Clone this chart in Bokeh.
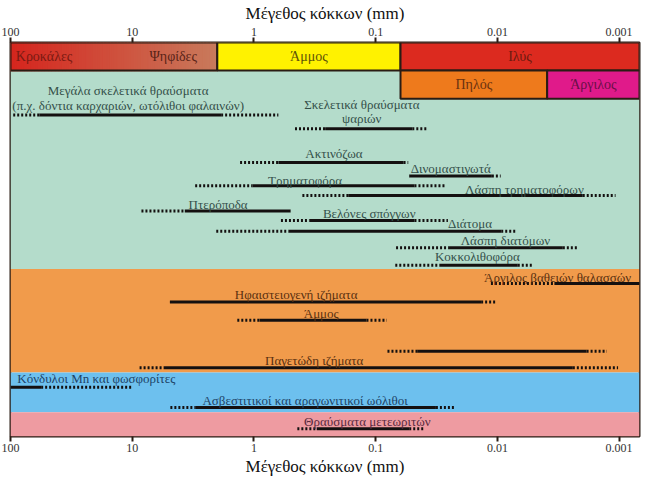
import numpy as np
from bokeh.plotting import figure
from bokeh.models import Range1d, LogAxis, FixedTicker, ColumnDataSource
from bokeh.core.properties import value
from bokeh.embed import file_html
from bokeh.resources import INLINE

# ---------------- data ----------------
X_MAX, X_MIN = 100.0, 0.00068          # grain size range (mm)
tick_values = [100, 10, 1, 0.1, 0.01, 0.001]
tick_labels = ["100", "10", "1", "0.1", "0.01", "0.001"]

# grain-size classes (top bands)
gravel_bounds = [100.0, 2.0]
gravel_labels = ["Κροκάλες", "Ψηφίδες"]
gravel_label_x = [53.0, 4.6]
class_names = ["Άμμος", "Ιλύς", "Πηλός", "Άργιλος"]
class_left = [2.0, 0.0625, 0.0625, 0.0039]
class_right = [0.0625, X_MIN, 0.0039, X_MIN]
class_row = [0, 0, 1, 1]
class_colors = ["#fff200", "#dc2a1f", "#ee7a1c", "#e01a8a"]
class_text_colors = ["#5e5208", "#6b1a10", "#6a3210", "#6a1048"]

# sediment groups (background regions)
region_names = ["biogenic", "terrigenous", "authigenic", "cosmogenic"]
region_colors = ["#b4dccb", "#f19b4b", "#6dc0ee", "#ee9ba1"]
region_text_colors = ["#34504a", "#5a3010", "#1e4468", "#5a2a40"]

# sediment types: size ranges in mm (dotted start, solid start, solid end, dotted end)
sed_names = ["Μεγάλα σκελετικά θραύσματα", "Σκελετικά θραύσματα", "Ακτινόζωα", "Δινομαστιγωτά",
             "Τρηματοφόρα", "Λάσπη τρηματοφόρων", "Πτερόποδα", "Βελόνες σπόγγων", "Διάτομα",
             "Λάσπη διατόμων", "Κοκκολιθοφόρα", "Άργιλος βαθειών θαλασσών",
             "Ηφαιστειογενή ιζήματα", "Άμμος", "", "Παγετώδη ιζήματα",
             "Κόνδυλοι Mn και φωσφορίτες", "Ασβεστιτικοί και αραγωνιτικοί ωόλιθοι",
             "Θραύσματα μετεωριτών"]
sed_region = [0, 0, 0, 0, 0, 0, 0, 0, 0, 0, 0, 1, 1, 1, 1, 1, 2, 2, 3]
dot_start = [95.0, 0.46, 1.3, 0.053, 3.04, 0.40, 8.4, 0.60, 2.04, 0.068, 0.069, 0.0113,
             4.9, 1.37, 0.080, 8.7, 100.0, 4.86, 0.44]
solid_start = [58.0, 0.26, 0.63, 0.053, 1.03, 0.168, 3.7, 0.35, 0.52, 0.025, 0.030, 0.0034,
               4.9, 0.90, 0.0456, 5.5, 100.0, 3.04, 0.305]
solid_end = [1.86, 0.050, 0.059, 0.0111, 0.048, 0.00199, 0.50, 0.048, 0.0093, 0.0029, 0.0068,
             X_MIN, 0.0136, 0.119, 0.00185, 0.0024, 56.0, 0.032, 0.053]
dot_end = [0.63, 0.038, 0.054, 0.0094, 0.027, 0.00107, 0.50, 0.0255, 0.0069, 0.0022, 0.0052,
           X_MIN, 0.0101, 0.081, 0.00126, 0.00102, 10.0, 0.022, 0.040]
# label anchor (size in mm) of each sediment type
label_x = [10.8, 0.13, 0.22, 0.0242, 0.38, 0.0060, 1.97, 0.113, 0.0168, 0.0086, 0.0146,
           0.0032, 0.45, 0.28, 0.28, 0.32, 88.0, 0.38, 0.117]
extra_label = ["(π.χ. δόντια καρχαριών, ωτόλιθοι φαλαινών)", "ψαριών"]
extra_label_x = [10.8, 0.13]

# ---------------- layout (vertical positions, frame units from top) ----------------
Y_TOP, Y_BOT = 0, 407
row_edges = [0, 29, 58]
region_edges = [0, 234, 341, 382, 407]
line_y = [75, 89, 124, 138, 148, 158, 174, 184, 195, 212, 230, 249, 268, 287, 319, 336, 356, 377, 399]
label_y = [50, 64, 115, 130, 143, 152, 167, 177, 187, 205, 221, 243, 260, 280, 280, 328, 347, 370, 391]
extra_label_y = [65, 79]

FONT = "'Liberation Serif', 'Times New Roman', serif"
DARK = "#2a1c14"

p = figure(width=649, height=478, x_axis_type="log",
           x_range=Range1d(X_MAX, X_MIN), y_range=Range1d(Y_BOT, Y_TOP),
           output_backend="svg", toolbar_location=None, y_axis_location=None,
           min_border_left=10, min_border_right=10, min_border_top=0, min_border_bottom=0)
p.grid.visible = False
p.outline_line_color = DARK
p.outline_line_width = 2
p.background_fill_color = "white"

# background regions
p.quad(left=[X_MAX] * 4, right=[X_MIN] * 4, top=region_edges[:-1], bottom=region_edges[1:],
       fill_color=region_colors, line_color=None)

# gravel gradient band
n = 60
edges = np.logspace(np.log10(gravel_bounds[0]), np.log10(gravel_bounds[1]), n + 1)
c0 = np.array([214, 38, 30]); c1 = np.array([201, 122, 92])
cols = ["#%02x%02x%02x" % tuple((c0 + (c1 - c0) * (i / (n - 1))).astype(int)) for i in range(n)]
p.quad(left=edges[:-1], right=edges[1:], top=[row_edges[0]] * n, bottom=[row_edges[1]] * n,
       fill_color=cols, line_color=cols, line_width=1.2)
p.quad(left=[gravel_bounds[0]], right=[gravel_bounds[1]], top=[row_edges[0]], bottom=[row_edges[1]],
       fill_color=None, line_color=DARK, line_width=2)
p.text(x=gravel_label_x, y=[(row_edges[0] + row_edges[1]) / 2] * 2, text=gravel_labels,
       text_font=value(FONT), text_font_size="14px", text_color=["#7a1a12", "#5a2418"],
       text_align="center", text_baseline="middle")

# other classes
cs = ColumnDataSource(dict(left=class_left, right=class_right,
                           top=[row_edges[r] for r in class_row],
                           bottom=[row_edges[r + 1] for r in class_row],
                           color=class_colors, tcolor=class_text_colors, name=class_names,
                           xm=[np.sqrt(a * b) for a, b in zip(class_left, class_right)],
                           ym=[(row_edges[r] + row_edges[r + 1]) / 2 for r in class_row]))
p.quad(left="left", right="right", top="top", bottom="bottom", fill_color="color",
       line_color=DARK, line_width=2, source=cs)
p.text(x="xm", y="ym", text="name", text_color="tcolor", source=cs, text_font=value(FONT),
       text_font_size="14px", text_align="center", text_baseline="middle")

# sediment ranges
ys = ColumnDataSource(dict(d0=dot_start, s0=solid_start, s1=solid_end, d1=dot_end, y=line_y))
p.segment(x0="d0", y0="y", x1="s0", y1="y", source=ys, line_color="#141010", line_width=3,
          line_dash="2 2", line_cap="butt")
p.segment(x0="s1", y0="y", x1="d1", y1="y", source=ys, line_color="#141010", line_width=3,
          line_dash="2 2", line_cap="butt")
p.segment(x0="s0", y0="y", x1="s1", y1="y", source=ys, line_color="#141010", line_width=3,
          line_cap="butt")

lab_align = ["left" if i == 16 else "center" for i in range(len(sed_names))]
ls = ColumnDataSource(dict(x=label_x, y=label_y, text=sed_names, align=lab_align,
                           color=[region_text_colors[r] for r in sed_region]))
p.text(x="x", y="y", text="text", text_align="align", text_color="color", source=ls,
       text_font=value(FONT), text_font_size="13px", text_baseline="middle")
p.text(x=extra_label_x, y=extra_label_y, text=extra_label, text_align="center",
       text_color=region_text_colors[0], text_font=value(FONT), text_font_size="13px",
       text_baseline="middle")

# axes
top_axis = LogAxis()
p.add_layout(top_axis, "above")
for ax in p.xaxis:
    ax.ticker = FixedTicker(ticks=tick_values)
    ax.major_label_overrides = dict(zip(tick_values, tick_labels))
    ax.minor_tick_line_color = None
    ax.axis_line_color = None
    ax.major_tick_in = 0
    ax.major_tick_out = 5
    ax.major_tick_line_color = DARK
    ax.major_tick_line_width = 2
    ax.major_label_text_font = FONT
    ax.major_label_text_font_size = "12px"
    ax.major_label_text_color = "#333333"
    ax.major_label_standoff = 2
    ax.axis_label = "Μέγεθος κόκκων (mm)"
    ax.axis_label_text_font = FONT
    ax.axis_label_text_font_size = "17px"
    ax.axis_label_text_font_style = "normal"
    ax.axis_label_text_color = "#111111"
    ax.axis_label_standoff = 2

open("out.html", "w").write(file_html(p, INLINE))
